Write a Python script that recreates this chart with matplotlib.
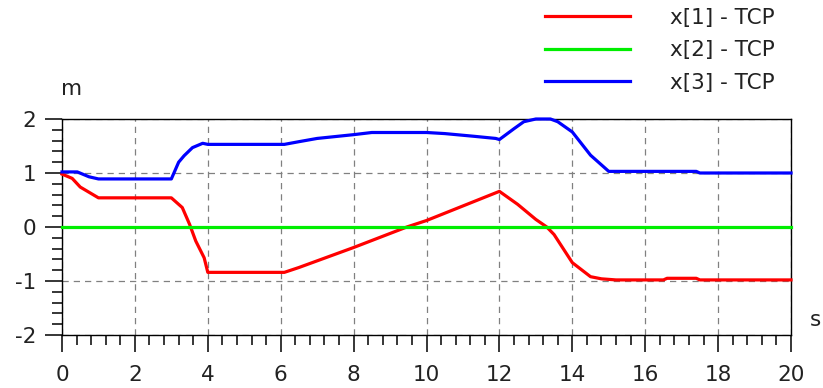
import numpy as np
import matplotlib
matplotlib.use("Agg")
import matplotlib.pyplot as plt
from matplotlib.ticker import MultipleLocator

# series (time in s, position in m)
t_x1 = [0, 0.28, 0.5, 0.75, 1.0, 3.0, 3.3, 3.5, 3.67, 3.9, 4.0, 6.1, 6.5, 8,
        9.46, 10, 11, 12, 12.5, 13, 13.3, 13.5, 14, 14.5, 14.8, 15.2, 16.5,
        16.6, 17.4, 17.5, 20]
x1 = [0.98, 0.9, 0.74, 0.64, 0.54, 0.54, 0.36, 0.05, -0.26, -0.57, -0.84,
      -0.84, -0.75, -0.38, 0.0, 0.12, 0.39, 0.66, 0.42, 0.14, 0.0, -0.14,
      -0.66, -0.92, -0.96, -0.98, -0.98, -0.95, -0.95, -0.98, -0.98]

t_x2 = [0, 20]
x2 = [0.0, 0.0]

t_x3 = [0, 0.42, 0.74, 1.0, 3.0, 3.2, 3.35, 3.58, 3.86, 4.0, 6.1, 6.5, 7, 8,
        8.5, 10, 10.5, 11.3, 11.9, 12.0, 12.4, 12.67, 13.0, 13.4, 13.6, 14.0,
        14.5, 15.0, 17.4, 17.5, 20]
x3 = [1.02, 1.02, 0.93, 0.89, 0.89, 1.20, 1.32, 1.47, 1.55, 1.53, 1.53, 1.58,
      1.64, 1.71, 1.75, 1.75, 1.73, 1.68, 1.64, 1.62, 1.82, 1.95, 2.0, 2.0,
      1.95, 1.76, 1.33, 1.03, 1.03, 1.0, 1.0]

labels = ["x[1] - TCP", "x[2] - TCP", "x[3] - TCP"]
colors = ["#ff0000", "#00ee00", "#0000ff"]

plt.rcParams["axes.unicode_minus"] = False

W, H = 823, 388
fs = 15.5
em = fs * 100 / 72
fig = plt.figure(figsize=(W / 100, H / 100), dpi=100)
ax = fig.add_axes([62 / W, 1 - 335 / H, (791 - 62) / W, (335 - 119) / H])

lines = []
for t, v, c, lab in zip([t_x1, t_x2, t_x3], [x1, x2, x3], colors, labels):
    ln, = ax.plot(t, v, color=c, lw=2.3, label=lab, clip_on=False, zorder=3)
    lines.append(ln)

ax.set_xlim(0, 20)
ax.set_ylim(-2, 2)
ax.xaxis.set_major_locator(MultipleLocator(2))
ax.xaxis.set_minor_locator(MultipleLocator(0.4))
ax.yaxis.set_major_locator(MultipleLocator(1))
ax.yaxis.set_minor_locator(MultipleLocator(0.2))
ax.tick_params(which="major", direction="out", length=12.5, width=1.1,
               labelsize=fs, color="black", labelcolor="#222222")
ax.tick_params(which="minor", direction="out", length=7.5, width=1.1,
               color="black")
ax.tick_params(axis="x", which="major", pad=9)
ax.tick_params(axis="y", which="major", pad=6)
ax.grid(True, which="major", color="#808080", lw=0.9, ls=(0, (5, 4)))
for s in ax.spines.values():
    s.set_linewidth(1.0)

fig.text(72 / W, 1 - 89 / H, "m", fontsize=fs, ha="center", va="center",
         color="#222222")
fig.text(815 / W, 1 - 320 / H, "s", fontsize=fs, ha="center", va="center",
         color="#222222")

fig.legend(handles=lines, loc="upper left", frameon=False,
           bbox_to_anchor=(545 / W, 1 - 8 / H), bbox_transform=fig.transFigure,
           fontsize=fs, handlelength=85 / em, handletextpad=40 / em,
           labelspacing=0.57, borderpad=0, borderaxespad=0,
           labelcolor="#222222")

fig.savefig("out.png", dpi=100)
